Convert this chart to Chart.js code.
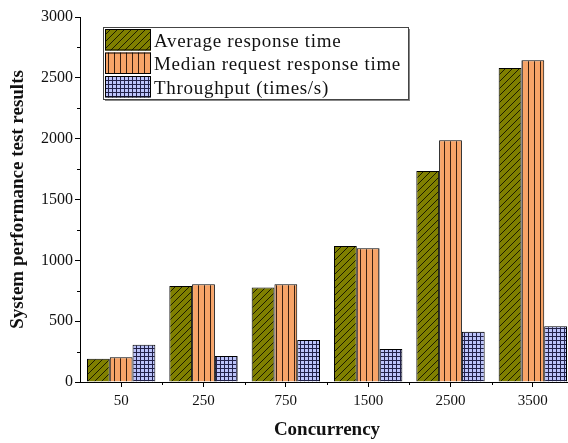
<!DOCTYPE html>
<html>
<head>
<meta charset="utf-8">
<script src="https://cdn.jsdelivr.net/npm/chart.js@4.4.0/dist/chart.umd.min.js"></script>
<style>
  html, body { margin: 0; padding: 0; background: #fff; overflow: hidden; }
  #wrap { width: 574px; height: 443px; }
</style>
</head>
<body>
<div id="wrap"><canvas id="chart" width="574" height="443"></canvas></div>
<script>
const categories = ['50', '250', '750', '1500', '2500', '3500']
const avgResponse = [192, 789, 776, 1118, 1734, 2581]
const medianResponse = [203, 803, 803, 1099, 1987, 2644]
const throughput = [307, 214, 345, 271, 414, 458]
const seriesLabels = ['Average response time', 'Median request response time', 'Throughput (times/s)']
const yMax = 3000
const yStep = 500

const SERIF = '"Liberation Serif", "Times New Roman", serif'

function makePattern(kind) {
  const c = document.createElement('canvas')
  const ctx = c.getContext('2d')
  if (kind === 'diag') {
    c.width = 7; c.height = 7
    ctx.fillStyle = '#808000'
    ctx.fillRect(0, 0, 7, 7)
    ctx.strokeStyle = '#1c1c00'
    ctx.lineWidth = 1
    ctx.beginPath()
    ctx.moveTo(-1, 8); ctx.lineTo(8, -1)
    ctx.moveTo(-1, 1); ctx.lineTo(1, -1)
    ctx.moveTo(6, 8); ctx.lineTo(8, 6)
    ctx.stroke()
  } else if (kind === 'vert') {
    c.width = 6; c.height = 6
    ctx.fillStyle = '#F7A468'
    ctx.fillRect(0, 0, 6, 6)
    ctx.fillStyle = '#3a2010'
    ctx.fillRect(0, 0, 1, 6)
  } else {
    c.width = 4; c.height = 4
    ctx.fillStyle = '#BCC4FA'
    ctx.fillRect(0, 0, 4, 4)
    ctx.fillStyle = '#22224a'
    ctx.fillRect(0, 0, 4, 1)
    ctx.fillRect(0, 0, 1, 4)
  }
  return document.getElementById('chart').getContext('2d').createPattern(c, 'repeat')
}

const patterns = [makePattern('diag'), makePattern('vert'), makePattern('grid')]

// minor ticks on both axes
const minorTicks = {
  id: 'minorTicks',
  afterDraw(chart) {
    const { ctx, scales: { x, y } } = chart
    ctx.save()
    ctx.strokeStyle = '#000'
    ctx.lineWidth = 1
    ctx.beginPath()
    for (let v = yStep / 2; v < yMax; v += yStep) {
      const py = Math.round(y.getPixelForValue(v)) + 0.5
      ctx.moveTo(x.left - 3, py); ctx.lineTo(x.left, py)
    }
    for (let i = 0; i < categories.length; i++) {
      const px = Math.round((x.getPixelForValue(i) + x.getPixelForValue(i + 1)) / 2) + 0.5
      ctx.moveTo(px, y.bottom); ctx.lineTo(px, y.bottom + 3)
    }
    ctx.stroke()
    ctx.restore()
  }
}

// boxed legend inside the plot
const boxLegend = {
  id: 'boxLegend',
  afterDraw(chart) {
    const { ctx } = chart
    const left = 103, top = 27, w = 305, h = 72, rowH = 23.5
    ctx.save()
    ctx.fillStyle = '#888'
    ctx.fillRect(left + 2, top + 2, w, h)
    ctx.fillStyle = '#fff'
    ctx.fillRect(left, top, w, h)
    ctx.strokeStyle = '#444'
    ctx.lineWidth = 1
    ctx.strokeRect(left + 0.5, top + 0.5, w, h)
    ctx.font = '19px ' + SERIF
    ctx.textBaseline = 'middle'
    chart.data.datasets.forEach((ds, i) => {
      const sy = top + 2 + i * rowH
      ctx.fillStyle = ds.backgroundColor
      ctx.fillRect(left + 2, sy, 46, rowH - 2)
      ctx.strokeStyle = '#000'
      ctx.strokeRect(left + 2.5, sy + 0.5, 45, rowH - 3)
      ctx.fillStyle = '#111'
      if ('letterSpacing' in ctx) ctx.letterSpacing = '0.7px'
      ctx.fillText(ds.label, left + 51, sy + rowH / 2 + 1)
    })
    ctx.restore()
  }
}

const datasets = [avgResponse, medianResponse, throughput].map((data, i) => ({
  label: seriesLabels[i],
  data: data,
  backgroundColor: patterns[i],
  borderColor: '#000',
  borderWidth: 1,
  borderSkipped: 'bottom',
  categoryPercentage: 0.83,
  barPercentage: 1.0
}))

new Chart(document.getElementById('chart'), {
  type: 'bar',
  data: { labels: categories, datasets: datasets },
  plugins: [minorTicks, boxLegend],
  options: {
    responsive: false,
    animation: false,
    layout: { padding: { top: 17, right: 0, left: 0, bottom: 0 } },
    plugins: {
      legend: { display: false },
      tooltip: { enabled: false }
    },
    scales: {
      x: {
        afterFit(scale) { scale.height = 61 },
        grid: { display: true, drawOnChartArea: false, offset: false, tickLength: 5, color: '#000' },
        border: { color: '#000', width: 1 },
        ticks: { color: '#111', font: { family: SERIF, size: 15 }, padding: 5 },
        title: {
          display: true,
          text: 'Concurrency',
          color: '#111',
          font: { family: SERIF, size: 19, weight: 'bold' },
          padding: { top: 2, bottom: 2 }
        }
      },
      y: {
        min: 0,
        max: yMax,
        afterFit(scale) { scale.width = 80 },
        grid: { display: true, drawOnChartArea: false, tickLength: 5, color: '#000' },
        border: { color: '#000', width: 1 },
        ticks: {
          stepSize: yStep,
          color: '#111',
          font: { family: SERIF, size: 16 },
          padding: 2,
          callback: v => String(v)
        },
        title: {
          display: true,
          text: 'System performance test results',
          color: '#111',
          font: { family: SERIF, size: 19, weight: 'bold' },
          padding: { top: 7, bottom: 2 }
        }
      }
    }
  }
})
</script>
</body>
</html>
